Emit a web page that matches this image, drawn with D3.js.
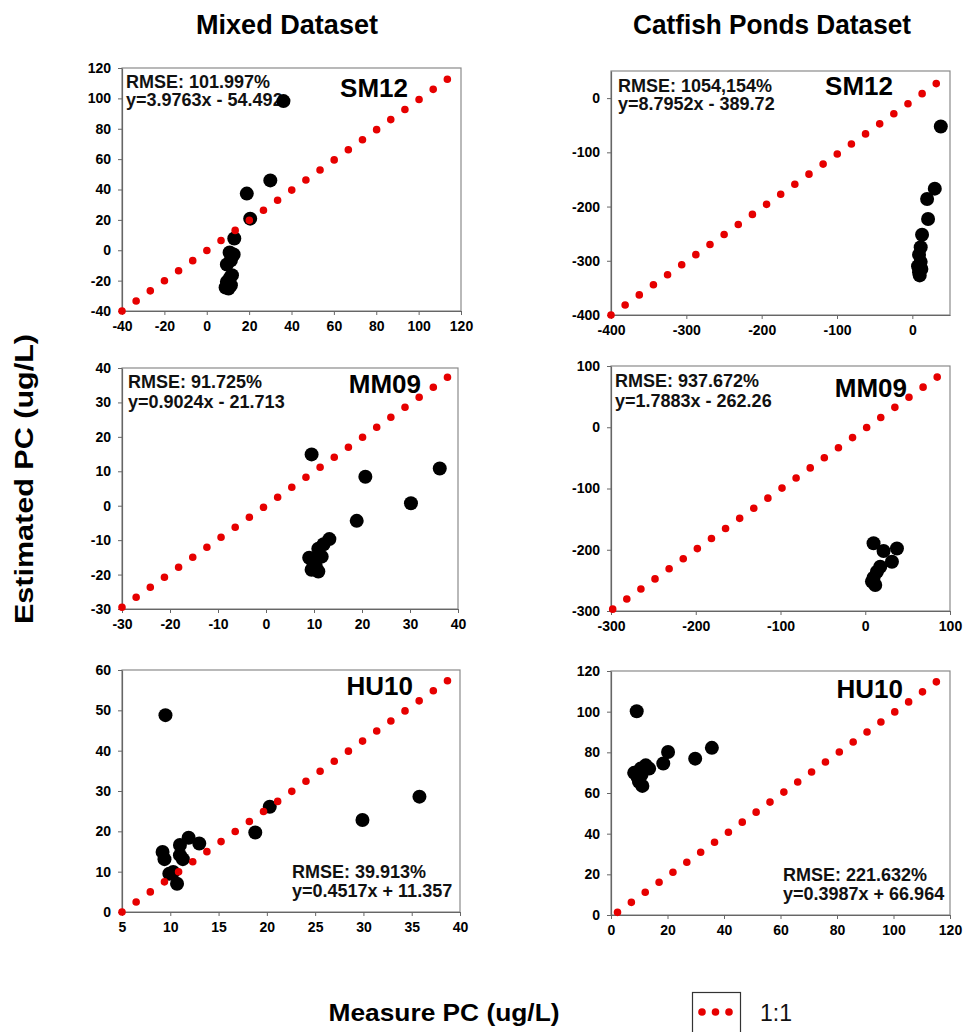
<!DOCTYPE html>
<html lang="en">
<head>
<meta charset="utf-8">
<title>Estimated vs measured PC</title>
<script src="https://d3js.org/d3.v7.min.js"></script>
<style>
  body { margin: 0; background: #fff; }
  text { font-family: "Liberation Sans", Arial, sans-serif; }
</style>
</head>
<body>
<script>

// ---- data ----
var colTitles = ["Mixed Dataset", "Catfish Ponds Dataset"];
var sites = ["SM12", "SM12", "MM09", "MM09", "HU10", "HU10"];
var rmse = ["RMSE: 101.997%", "RMSE: 1054,154%", "RMSE: 91.725%", "RMSE: 937.672%", "RMSE: 39.913%", "RMSE: 221.632%"];
var fits = ["y=3.9763x - 54.492", "y=8.7952x - 389.72", "y=0.9024x - 21.713", "y=1.7883x - 262.26", "y=0.4517x + 11.357", "y=0.3987x + 66.964"];

var xDomains = [[-40, 120], [-400, 50], [-30, 40], [-300, 100], [5, 40], [0, 120]];
var yDomains = [[-40, 120], [-400, 50], [-30, 40], [-300, 100], [0, 60], [0, 120]];

var xTicks = [
  [-40, -20, 0, 20, 40, 60, 80, 100, 120],
  [-400, -300, -200, -100, 0],
  [-30, -20, -10, 0, 10, 20, 30, 40],
  [-300, -200, -100, 0, 100],
  [5, 10, 15, 20, 25, 30, 35, 40],
  [0, 20, 40, 60, 80, 100, 120]
];
var yTicks = [
  [-40, -20, 0, 20, 40, 60, 80, 100, 120],
  [-400, -300, -200, -100, 0],
  [-30, -20, -10, 0, 10, 20, 30, 40],
  [-300, -200, -100, 0, 100],
  [0, 10, 20, 30, 40, 50, 60],
  [0, 20, 40, 60, 80, 100, 120]
];

// measured (x) vs estimated (y)
var mixedSM12 = [[36.2, 98.2], [30.0, 46.0], [18.9, 37.3], [20.5, 20.8], [13.0, 7.7], [10.8, -1.5],
  [12.7, -2.8], [11.4, -6.6], [9.5, -9.4], [11.9, -16.4], [11.0, -18.0], [9.5, -20.8],
  [11.4, -23.0], [10.3, -25.2], [8.9, -24.5]];
var catfishSM12 = [[37.8, -52.3], [29.8, -167], [19.6, -186], [20.9, -223], [12.9, -252], [11.1, -275],
  [8.9, -289], [11.1, -302], [7.6, -310], [8.9, -321], [12.0, -315], [9.8, -327]];
var mixedMM09 = [[9.5, 14.9], [20.7, 8.4], [36.2, 10.8], [30.2, 0.7], [18.9, -4.4], [13.2, -9.7],
  [12.0, -11.2], [10.9, -12.5], [11.6, -14.8], [9.0, -15.1], [9.9, -16.7], [9.5, -18.6],
  [10.9, -19.1], [10.4, -17.7]];
var catfishMM09 = [[9.8, -189.5], [21.6, -202], [37.4, -198], [31.5, -219.6], [17.7, -227.8],
  [13.8, -236], [9.8, -245.6], [7.9, -252], [11.8, -257.6]];
var mixedHU10 = [[9.5, 48.8], [9.2, 14.9], [9.4, 13.1], [9.9, 9.5], [10.3, 9.9], [10.7, 7.0],
  [11.0, 16.6], [11.0, 14.1], [11.3, 13.1], [11.9, 18.4], [13.0, 17.0], [18.8, 19.7],
  [20.3, 26.1], [29.9, 22.8], [35.8, 28.6]];
var catfishHU10 = [[9.1, 100.2], [8.2, 69.9], [9.4, 67.9], [9.9, 65.5], [11.1, 63.5], [10.5, 72],
  [12.3, 73.6], [13.5, 72], [10.8, 69], [18.5, 74.5], [20.2, 80.2], [29.8, 76.9], [35.7, 82.2]];

// end points of the dotted 1:1 series in each panel
var oneToOne = [
  [[-40, -40], [114, 113]],
  [[-400, -400], [33, 28]],
  [[-30, -29.5], [38, 37.5]],
  [[-298, -297], [86, 83]],
  [[5, 0], [38.8, 57.5]],
  [[2.3, 1.3], [115.5, 115]]
];

var points = [mixedSM12, catfishSM12, mixedMM09, catfishMM09, mixedHU10, catfishHU10];

// ---- layout ----
var w = 966, h = 1032;
var red = "#e60000";

// plot frames (px) and where the texts sit inside them
var frames = [
  {left: 122, right: 461, top: 68, bottom: 311, labDx: 53, labY: 29, ann: "top", annX: 4, annY: 20, annGap: 18},
  {left: 611, right: 950, top: 71, bottom: 315, labDx: 57, labY: 24, ann: "top", annX: 7, annY: 21, annGap: 18},
  {left: 122, right: 458, top: 368, bottom: 609, labDx: 37, labY: 25, ann: "top", annX: 6, annY: 20, annGap: 20},
  {left: 611, right: 950, top: 366, bottom: 611, labDx: 43, labY: 31, ann: "top", annX: 4, annY: 21, annGap: 20},
  {left: 122, right: 460, top: 670, bottom: 912, labDx: 47, labY: 25, ann: "bottom", annX: 168, annY: 34, annGap: 19},
  {left: 611, right: 950, top: 671, bottom: 915, labDx: 47, labY: 27, ann: "bottom", annX: 167, annY: 34, annGap: 19}
];

var svg = d3.select("body")
  .append("svg")
  .attr("width", w)
  .attr("height", h);

svg.append("rect")
  .attr("width", w)
  .attr("height", h)
  .attr("fill", "#fff");

// column titles
var titleCenters = [287, 772];
var titleWidths = [182, 278];
colTitles.forEach(function(t, i) {
  svg.append("text")
    .attr("x", titleCenters[i])
    .attr("y", 34)
    .attr("text-anchor", "middle")
    .attr("font-size", 28)
    .attr("font-weight", "bold")
    .attr("textLength", titleWidths[i])
    .attr("lengthAdjust", "spacingAndGlyphs")
    .style("font-family", "'Liberation Sans Narrow', 'Arial Narrow', 'Liberation Sans', sans-serif")
    .text(t);
});

// shared axis titles
svg.append("text")
  .attr("transform", "translate(33,479) rotate(-90)")
  .attr("text-anchor", "middle")
  .attr("font-size", 25)
  .attr("font-weight", "bold")
  .attr("textLength", 290)
  .attr("lengthAdjust", "spacingAndGlyphs")
  .text("Estimated PC (ug/L)");

svg.append("text")
  .attr("x", 444)
  .attr("y", 1021)
  .attr("text-anchor", "middle")
  .attr("font-size", 24)
  .attr("font-weight", "bold")
  .attr("textLength", 231)
  .attr("lengthAdjust", "spacingAndGlyphs")
  .text("Measure PC (ug/L)");

// panels
frames.forEach(function(f, i) {
  var x = d3.scaleLinear().domain(xDomains[i]).range([f.left, f.right]);
  var y = d3.scaleLinear().domain(yDomains[i]).range([f.bottom, f.top]);
  var g = svg.append("g");

  // frame
  g.append("rect")
    .attr("x", f.left)
    .attr("y", f.top)
    .attr("width", f.right - f.left)
    .attr("height", f.bottom - f.top)
    .attr("fill", "none")
    .attr("stroke", "#8a8a8a")
    .attr("stroke-width", 1.2);

  var xAxis = g.append("g")
    .attr("transform", "translate(0," + f.bottom + ")")
    .call(d3.axisBottom(x).tickValues(xTicks[i]).tickSize(4).tickSizeOuter(0).tickPadding(6).tickFormat(String));
  var yAxis = g.append("g")
    .attr("transform", "translate(" + f.left + ",0)")
    .call(d3.axisLeft(y).tickValues(yTicks[i]).tickSize(4).tickSizeOuter(0).tickPadding(7).tickFormat(String));

  [xAxis, yAxis].forEach(function(a) {
    a.select(".domain").attr("stroke", "#666").attr("stroke-width", 1.2);
    a.selectAll(".tick line").attr("stroke", "#666");
    a.selectAll(".tick text")
      .attr("fill", "#000")
      .attr("font-size", 14)
      .attr("font-weight", "bold")
      .style("font-family", "'Liberation Sans', Arial, sans-serif");
  });

  // RMSE + fit equation
  var ax = f.ann === "top" ? f.left + f.annX : f.right - f.annX;
  var ay = f.ann === "top" ? f.top + f.annY : f.bottom - f.annY;
  [rmse[i], fits[i]].forEach(function(t, k) {
    g.append("text")
      .attr("x", ax)
      .attr("y", ay + k * f.annGap)
      .attr("font-size", 18)
      .attr("font-weight", "bold")
      .attr("fill", "#111")
      .text(t);
  });

  // site name
  g.append("text")
    .attr("x", f.right - f.labDx)
    .attr("y", f.top + f.labY)
    .attr("text-anchor", "end")
    .attr("font-size", 26)
    .attr("font-weight", "bold")
    .attr("fill", "#000")
    .text(sites[i]);

  // observations
  g.selectAll("circle.obs")
    .data(points[i])
    .enter()
    .append("circle")
    .attr("class", "obs")
    .attr("cx", d => x(d[0]))
    .attr("cy", d => y(d[1]))
    .attr("r", 7)
    .attr("fill", "#000");

  // dotted 1:1 series
  var e = oneToOne[i];
  var x1 = x(e[0][0]), y1 = y(e[0][1]), x2 = x(e[1][0]), y2 = y(e[1][1]);
  var len = Math.hypot(x2 - x1, y2 - y1);
  var n = Math.round(len / 17.4);
  g.append("line")
    .attr("x1", x1).attr("y1", y1)
    .attr("x2", x2).attr("y2", y2)
    .attr("stroke", red)
    .attr("stroke-width", 7.6)
    .attr("stroke-linecap", "round")
    .attr("stroke-dasharray", "0," + (len / n - 0.05));
});

// legend
var legend = svg.append("g");
legend.append("rect")
  .attr("x", 692.5)
  .attr("y", 992.5)
  .attr("width", 48)
  .attr("height", 60)
  .attr("fill", "none")
  .attr("stroke", "#333")
  .attr("stroke-width", 1.2);
legend.selectAll("circle")
  .data(d3.range(3))
  .enter()
  .append("circle")
  .attr("cx", d => 702 + d * 13.5)
  .attr("cy", 1012)
  .attr("r", 3.8)
  .attr("fill", red);
legend.append("text")
  .attr("x", 760)
  .attr("y", 1021)
  .attr("font-size", 23)
  .attr("fill", "#111")
  .text("1:1");

</script>
</body>
</html>
